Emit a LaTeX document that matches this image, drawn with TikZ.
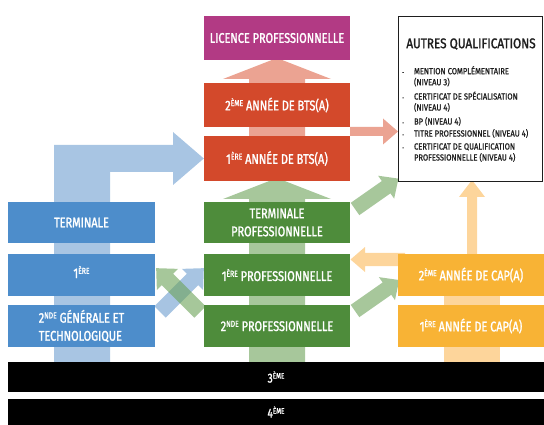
\documentclass[tikz,border=0pt]{standalone}
\usepackage{fontspec}
\usetikzlibrary{calc}
\newfontfamily\hand{Fira Sans}[FakeStretch=0.78,FakeBold=1.5]
\newfontfamily\handt{Fira Sans}[FakeStretch=0.84,FakeBold=1.5]
\newfontfamily\handlist{Fira Sans}[FakeStretch=0.86,FakeBold=1]
\definecolor{cmag}{HTML}{B23A84}
\definecolor{cred}{HTML}{D3492B}
\definecolor{cblue}{HTML}{4D8DCB}
\definecolor{cgreen}{HTML}{4E8C3B}
\definecolor{corange}{HTML}{F8B335}
\definecolor{lblue}{HTML}{A8C5E3}
\definecolor{lgreen}{HTML}{A7C79B}
\definecolor{lsalmon}{HTML}{EBA392}
\definecolor{lorange}{HTML}{FDD59B}
\definecolor{tblue}{HTML}{6C9DCF}
\definecolor{tgreen}{HTML}{6BA257}
\definecolor{dtext}{HTML}{1E1E1E}
\newcommand\supx[1]{\raisebox{0.3em}{\scalebox{0.62}{#1}}}
\newcommand\fatarr[7]{\fill[#7,shift={#1},rotate=#2] (0,-#4) -- ({#3-#6},-#4) -- ({#3-#6},-#5) -- (#3,0) -- ({#3-#6},#5) -- ({#3-#6},#4) -- (0,#4) -- cycle;}
\pgfdeclarelayer{background}
\pgfsetlayers{background,main}
\begin{document}
\begin{tikzpicture}[x=1pt,y=-1pt,
  box/.style={minimum width=146pt,minimum height=42pt,inner sep=0pt,text=white,align=center,font=\hand\fontsize{14}{18}\selectfont},
  bar/.style={fill=black,minimum width=536pt,inner sep=0pt,text=white,font=\hand\fontsize{13}{15}\selectfont}]
\useasboundingbox (0,0) rectangle (544,425);
% top column
\node[box,fill=cmag,minimum height=44pt] (lic) at (277,38) {LICENCE PROFESSIONNELLE};
\node[box,fill=cred,minimum height=44pt] (bts2) at (277,105) {2\supx{ÈME} ANNÉE DE BTS(A)};
\node[box,fill=cred,minimum height=45pt] (bts1) at (277,158.5) {1\supx{ÈRE} ANNÉE DE BTS(A)};
% general
\node[box,fill=cblue,minimum width=147pt,minimum height=41pt] (term) at (81.5,222.5) {TERMINALE};
\node[box,fill=cblue,minimum width=147pt] (prem) at (81.5,275) {};
\node[text=white,font=\hand\fontsize{14}{18}\selectfont,inner sep=0pt] (premt) at (81.5,272) {1\supx{ÈRE}};
\node[box,fill=cblue,minimum width=147pt,align=left] (sec) at (81.5,326) {2\supx{NDE} GÉNÉRALE ET\\TECHNOLOGIQUE};
% professional
\node[box,fill=cgreen,minimum height=41pt] (tpro) at (277,222.5) {TERMINALE\\PROFESSIONNELLE};
\node[box,fill=cgreen] (ppro) at (277,275) {1\supx{ÈRE} PROFESSIONNELLE};
\node[box,fill=cgreen] (spro) at (277,326) {2\supx{NDE} PROFESSIONNELLE};
% CAP
\node[box,fill=corange] (cap2) at (471,275) {2\supx{ÈME} ANNÉE DE CAP(A)};
\node[box,fill=corange] (cap1) at (471,326) {1\supx{ÈRE} ANNÉE DE CAP(A)};
% bars
\node[bar,minimum height=30pt] (b3) at (276,377) {3\supx{ÈME}};
\node[bar,minimum height=26pt] (b4) at (276,412) {4\supx{ÈME}};
% autres qualifications
\node[draw=dtext,line width=1.6pt,fill=white,minimum width=144pt,minimum height=165pt,inner sep=0pt] (aq) at (470.5,99) {};
\node[text=dtext,font=\handt\fontsize{14}{16}\selectfont,inner sep=0pt] (aqt) at (471,44) {AUTRES QUALIFICATIONS};
\node[anchor=north west,inner sep=0pt,text=dtext,font=\handlist\fontsize{8.8}{11}\selectfont] (aql) at (402,66)
{\begin{tabular}{@{}l@{\hspace{10pt}}l@{}}
\scalebox{0.6}{-} & MENTION COMPLÉMENTAIRE\\
 & (NIVEAU 3)\\[3pt]
\scalebox{0.6}{-} & CERTIFICAT DE SPÉCIALISATION\\
 & (NIVEAU 4)\\[3pt]
\scalebox{0.6}{-} & BP (NIVEAU 4)\\[1pt]
\scalebox{0.6}{-} & TITRE PROFESSIONNEL (NIVEAU 4)\\[2pt]
\scalebox{0.6}{-} & CERTIFICAT DE QUALIFICATION\\
 & PROFESSIONNELLE (NIVEAU 4)
\end{tabular}};
\begin{pgfonlayer}{background}
% blue L arrow
\fill[lblue] (54,362) -- (54,145) -- (173,145) -- (173,132) -- (bts1.west) -- (173,185) -- (173,172) -- (110,172) -- (110,362) -- cycle;
% green column arrow
\fill[lgreen] (249,362) -- (249,199) -- (223,199) -- (277,178) -- (331,199) -- (305,199) -- (305,362) -- cycle;
% salmon column arrow
\fill[lsalmon] (249,181) -- (249,79) -- (223,79) -- (277,58) -- (331,79) -- (305,79) -- (305,181) -- cycle;
% orange column
\fill[lorange] (444,254) rectangle (500,362);
% side arrows
\fatarr{(350,131.5)}{0}{48}{4.5}{13}{15}{lsalmon}
\fatarr{(355,209)}{35}{53}{7.5}{14}{15}{lgreen}
\fatarr{(355,311)}{35}{54}{7.5}{14}{15}{lgreen}
\fatarr{(405,259.5)}{180}{54.5}{6.7}{12.5}{14.5}{lorange}
\fatarr{(472,260)}{90}{80}{5}{13}{17}{lorange}
% crossing arrows
\fatarr{(160,312)}{45}{62}{8}{15}{16}{tblue,opacity=0.6}
\fatarr{(200,312)}{135}{62}{8}{15}{16}{tgreen,opacity=0.6}
\end{pgfonlayer}
\end{tikzpicture}
\end{document}
